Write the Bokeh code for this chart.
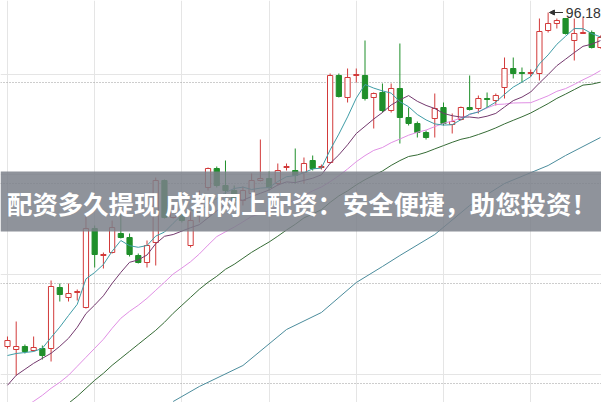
import math
from bokeh.plotting import figure
from bokeh.models import ColumnDataSource, Range1d, Span, BoxAnnotation, Label, Arrow, NormalHead
from bokeh.embed import file_html
from bokeh.resources import INLINE

# ---- daily candles (price units) ----
opens = [62.78, 62.48, 62.78, 62.38, 62.58, 62.58, 68.68, 67.68, 68.18, 66.68,
         74.58, 71.88, 72.18, 74.08, 73.68, 71.88, 71.18, 73.18, 79.38, 75.68,
         76.18, 72.88, 75.88, 78.68, 80.58, 78.88, 78.38, 77.38, 78.08, 79.38,
         79.58, 79.08, 80.68, 80.38, 80.18, 81.38, 80.68, 81.18, 89.88, 87.68,
         89.88, 89.88, 87.68, 88.18, 86.38, 88.58, 85.68, 85.08, 84.18, 85.58,
         86.68, 84.98, 85.48, 86.68, 86.58, 87.58, 87.38, 88.68, 90.58, 90.18,
         90.08, 90.08, 94.38, 95.08, 95.58, 93.38, 94.08, 94.18, 92.68]
closes = [63.38, 62.78, 62.28, 62.68, 61.88, 68.78, 67.98, 68.08, 68.28, 74.58,
          71.98, 71.98, 74.68, 73.68, 71.98, 71.18, 72.88, 79.38, 75.68, 76.38,
          75.38, 75.38, 77.68, 80.58, 78.88, 78.38, 77.38, 78.38, 79.38, 79.58,
          78.68, 80.38, 80.78, 79.88, 81.08, 80.58, 80.78, 89.88, 87.78, 89.68,
          89.98, 87.58, 88.08, 86.38, 88.58, 85.68, 85.08, 84.18, 83.68, 86.58,
          85.08, 85.28, 86.68, 86.48, 87.58, 87.48, 87.88, 90.58, 90.08, 90.08,
          90.18, 94.28, 95.08, 95.38, 94.08, 94.08, 94.18, 92.68, 93.68]
highs = [63.78, 65.28, 62.98, 63.78, 62.88, 69.38, 69.08, 69.08, 68.48, 76.08,
         74.88, 72.18, 75.38, 76.88, 74.08, 72.08, 73.38, 79.68, 79.48, 76.88,
         76.58, 76.28, 78.38, 80.68, 80.78, 81.38, 78.88, 78.78, 80.08, 83.48,
         80.28, 81.08, 81.08, 82.58, 81.68, 81.88, 80.98, 90.08, 90.08, 90.58,
         90.58, 93.38, 88.18, 89.08, 89.08, 93.08, 86.68, 85.28, 84.38, 88.08,
         87.18, 86.08, 86.78, 89.88, 87.88, 88.18, 88.08, 91.68, 91.68, 90.68,
         90.48, 95.58, 96.18, 95.58, 95.58, 95.58, 95.68, 94.38, 93.88]
lows = [62.58, 59.88, 62.08, 62.28, 61.48, 61.28, 67.28, 67.28, 67.38, 66.58,
        70.68, 70.58, 72.08, 73.58, 71.78, 71.08, 70.68, 70.88, 75.58, 75.58,
        75.18, 72.68, 75.18, 78.38, 78.68, 77.68, 76.88, 76.88, 77.68, 79.28,
        78.38, 78.88, 80.38, 79.08, 79.08, 80.38, 80.48, 81.08, 87.68, 87.18,
        89.18, 87.38, 84.58, 86.18, 86.18, 83.08, 84.88, 83.68, 83.48, 83.68,
        84.88, 84.08, 85.38, 86.38, 86.08, 86.68, 86.88, 87.58, 89.58, 89.18,
        89.78, 89.38, 94.18, 94.58, 93.98, 91.38, 94.08, 92.58, 92.58]

# ---- moving averages ----
ma5 = [61.88, 62.08, 62.18, 62.28, 62.60, 63.68, 64.72, 65.88, 67.00, 69.54,
       70.18, 70.98, 72.30, 73.38, 72.86, 72.70, 72.88, 73.82, 74.22, 75.10,
       75.94, 76.44, 76.10, 77.08, 77.58, 78.18, 78.58, 78.72, 78.48, 78.62,
       78.68, 79.28, 79.76, 79.86, 80.16, 80.54, 80.62, 82.44, 84.02, 85.74,
       87.62, 88.98, 88.62, 88.34, 88.12, 87.26, 86.76, 85.98, 85.44, 85.04,
       84.92, 84.96, 85.46, 86.02, 86.22, 86.70, 87.22, 88.00, 88.72, 89.22,
       89.76, 91.04, 91.94, 93.00, 93.80, 94.58, 94.56, 94.08, 93.74]
ma10 = [58.90, 59.90, 60.50, 61.10, 61.60, 62.10, 62.80, 63.60, 64.70, 66.07,
        66.93, 67.85, 69.09, 70.19, 71.20, 71.44, 71.93, 73.06, 73.80, 73.98,
        74.32, 74.66, 74.96, 75.65, 76.34, 77.06, 77.51, 77.41, 77.78, 78.10,
        78.43, 78.93, 79.24, 79.17, 79.39, 79.61, 79.95, 81.10, 81.94, 82.95,
        84.08, 84.80, 85.53, 86.18, 86.93, 87.44, 87.87, 87.30, 86.89, 86.58,
        86.09, 85.86, 85.72, 85.73, 85.63, 85.81, 86.09, 86.73, 87.37, 87.72,
        88.23, 89.13, 89.97, 90.86, 91.51, 92.17, 92.80, 93.01, 93.37]
ma20 = [None, None, 56.70, 57.30, 57.90, 58.60, 59.20, 59.90, 60.80, 61.70,
        62.60, 63.50, 64.60, 65.60, 66.30, 66.90, 67.60, 68.40, 69.20, 70.03,
        70.63, 71.26, 72.03, 72.92, 73.77, 74.25, 74.72, 75.24, 75.79, 76.04,
        76.38, 76.80, 77.10, 77.41, 77.87, 78.34, 78.73, 79.26, 79.86, 80.53,
        81.26, 81.87, 82.39, 82.68, 83.16, 83.53, 83.91, 84.20, 84.42, 84.77,
        85.09, 85.33, 85.63, 85.96, 86.28, 86.63, 86.98, 87.02, 87.13, 87.15,
        87.16, 87.50, 87.85, 88.30, 88.57, 88.99, 89.45, 89.87, 90.37]
ma30 = [None, None, None, None, None, None, None, 57.10, 57.80, 58.60,
        59.40, 60.10, 60.90, 61.60, 62.30, 63.00, 63.70, 64.40, 65.20, 66.10,
        66.90, 67.70, 68.50, 69.20, 69.80, 70.50, 71.00, 71.60, 72.20, 72.72,
        73.23, 73.81, 74.43, 75.00, 75.64, 76.04, 76.46, 77.19, 77.84, 78.34,
        78.94, 79.46, 79.91, 80.33, 80.89, 81.37, 81.78, 81.94, 82.20, 82.54,
        82.87, 83.20, 83.50, 83.69, 83.98, 84.29, 84.64, 85.04, 85.40, 85.75,
        86.13, 86.60, 87.07, 87.59, 88.02, 88.47, 88.92, 89.01, 89.21]
ma60_day = [19, 22, 27, 32, 36, 40, 43, 45, 49, 53, 57, 62, 64, 68]
ma60 = [57.28, 58.78, 60.88, 64.48, 66.18, 69.18, 70.78, 71.88, 73.98, 76.88,
        79.08, 80.88, 81.88, 83.68]

grid_levels = [89.18, 79.08, 69.08, 59.08]
peak_day = 62
peak_text = "96.18"
banner_text = "配资多久提现 成都网上配资：安全便捷，助您投资！"

RED = "#d23a3a"
GREEN = "#1f8f2a"

n = len(opens)
days = list(range(n))


def nan(v):
    return float("nan") if v is None else v


up = [i for i in days if closes[i] >= opens[i]]
dn = [i for i in days if closes[i] < opens[i]]


def src(ids):
    return ColumnDataSource(dict(
        x=ids,
        h=[highs[i] for i in ids],
        l=[lows[i] for i in ids],
        top=[max(opens[i], closes[i]) for i in ids],
        bot=[min(opens[i], closes[i]) for i in ids],
    ))


s_up = src(up)
s_dn = src(dn)

p = figure(width=601, height=402,
           x_range=Range1d(-0.80, 68.12), y_range=Range1d(57.18, 97.38),
           x_axis_location=None, y_axis_location=None,
           toolbar_location=None, output_backend="svg",
           min_border=0, outline_line_color=None,
           background_fill_color="white", border_fill_color="white")

for lvl in grid_levels:
    p.add_layout(Span(location=lvl, dimension="width", line_color="#9a9a9a",
                      line_dash="1 2", line_width=1, level="underlay"))

# candles
p.segment("x", "h", "x", "l", source=s_up, line_color=RED, line_width=1)
p.segment("x", "h", "x", "l", source=s_dn, line_color=GREEN, line_width=1)
p.vbar(x="x", top="top", bottom="bot", width=0.6, source=s_up,
       fill_color="white", line_color=RED, line_width=1)
p.vbar(x="x", top="top", bottom="bot", width=0.6, source=s_dn,
       fill_color=GREEN, line_color=GREEN, line_width=1)

# moving averages
p.line(ma60_day, ma60, line_color="#4b8c9c", line_width=1)
p.line(days, [nan(v) for v in ma30], line_color="#356b35", line_width=1)
p.line(days, [nan(v) for v in ma20], line_color="#e08fe4", line_width=1)
p.line(days, [nan(v) for v in ma10], line_color="#74396e", line_width=1)
p.line(days, [nan(v) for v in ma5], line_color="#3f9ca6", line_width=1)

# peak marker
p.add_layout(Arrow(end=NormalHead(size=5, fill_color="#333333", line_color="#333333"),
                   x_start=63.7, y_start=highs[peak_day], x_end=peak_day + 0.15,
                   y_end=highs[peak_day], line_color="#333333", line_width=1))
p.add_layout(Label(x=68.05, y=highs[peak_day], text=peak_text,
                   text_font="Liberation Sans", text_font_size="14px",
                   text_align="right", text_baseline="middle",
                   text_color="#333333"))

# banner
p.add_layout(BoxAnnotation(top=80.28, bottom=74.28, fill_color="#7b8089",
                           fill_alpha=0.85, line_color=None))
p.add_layout(Label(x=-0.05, y=77.15, text=banner_text,
                   text_font="Noto Sans CJK SC", text_font_size="25.4px",
                   text_font_style="bold", text_baseline="middle",
                   text_color="white"))

open("out.html", "w").write(file_html(p, INLINE))
